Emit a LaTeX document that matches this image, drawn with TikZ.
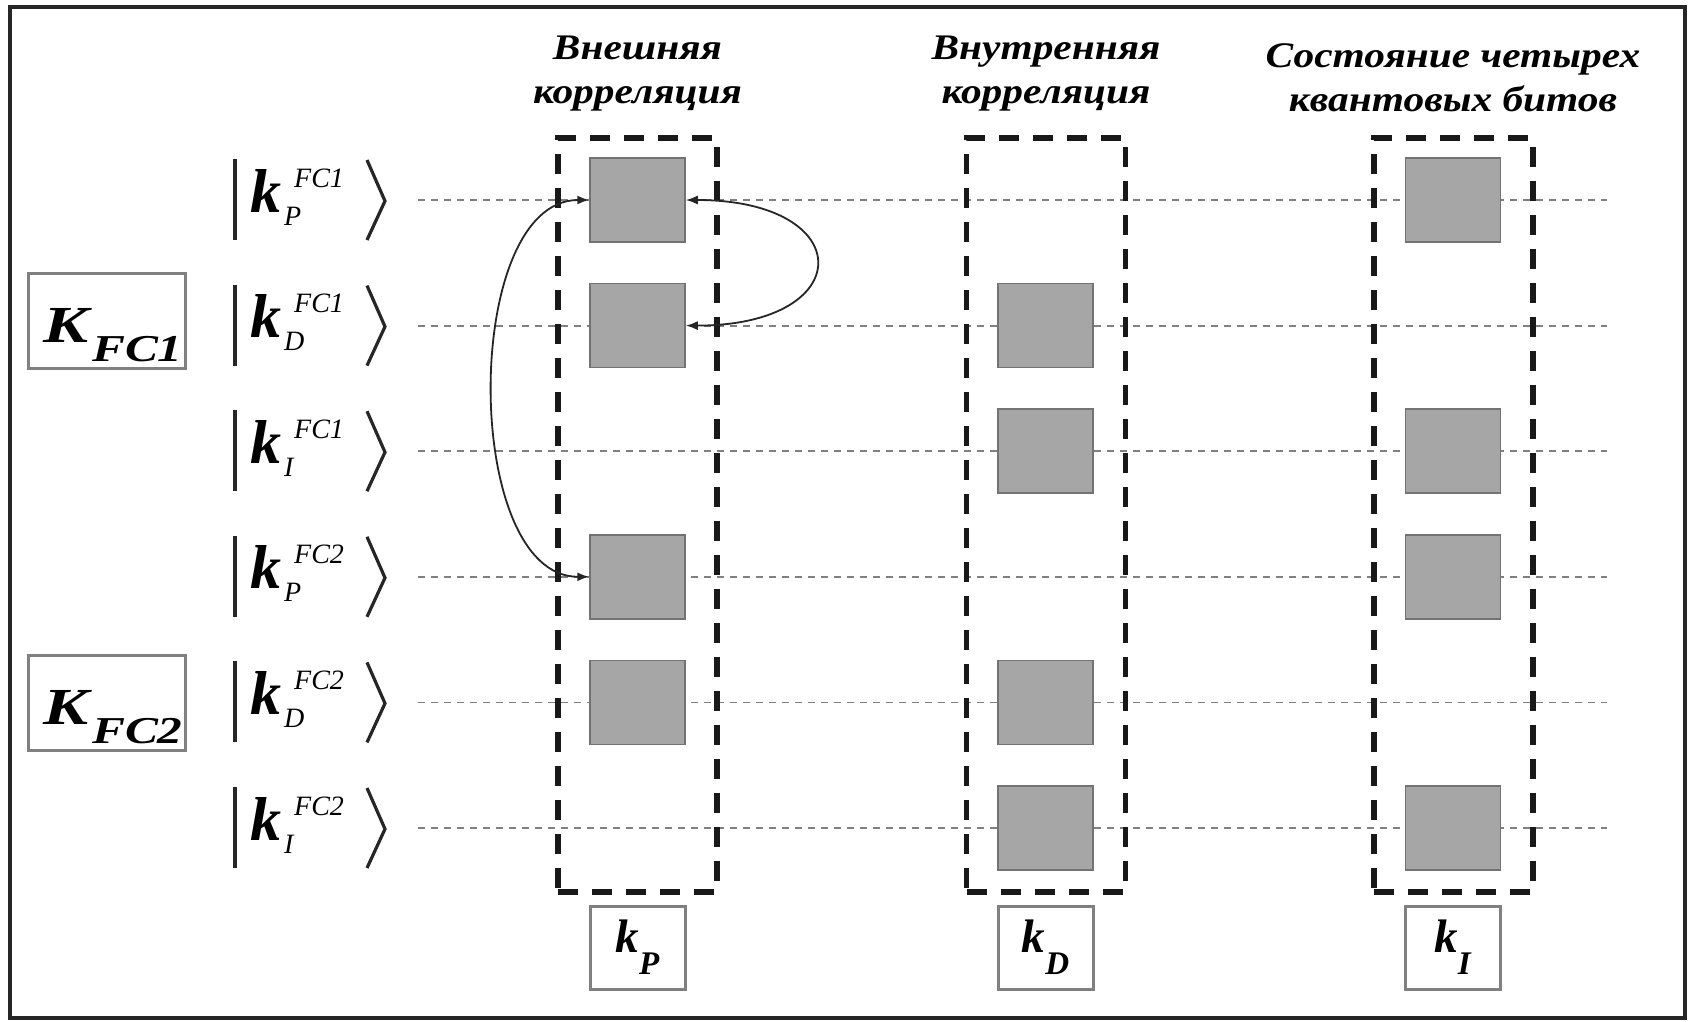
\documentclass[tikz,border=0pt]{standalone}
\usepackage{fontspec}
\setmainfont{Liberation Serif}
\newfontfamily\hdrfont[FakeStretch=1.15]{Liberation Serif}
\newfontfamily\widefont[FakeStretch=1.3]{Liberation Serif}
\usetikzlibrary{arrows.meta}

% ket label body: bold italic k with an italic subscript and superscript
\newcommand\ketbody[2]{\textbf{\textit{k}}\kern3pt\rlap{\kern10pt\raisebox{25pt}{\fontsize{28}{28}\selectfont\textit{#2}}}\raisebox{-13pt}{\fontsize{28}{28}\selectfont\textit{#1}}}
% bold italic symbol with a lowered bold italic index
\newcommand\idxsym[4]{\textbf{\textit{#1}}\raisebox{-#3}{\fontsize{#4}{#4}\selectfont\textbf{\textit{#2}}}}

\begin{document}
\begin{tikzpicture}[x=1pt,y=-1pt,
  frame/.style={line width=4pt, draw=black!85},
  qline/.style={draw=black!50, line width=1.8pt, dash pattern=on 7pt off 6pt},
  corrbox/.style={draw=black!90, line width=5.5pt, dash pattern=on 20pt off 14pt,
    minimum width=159pt, minimum height=754pt, inner sep=0pt},
  qbit/.style={fill=black!35, draw=black!55, line width=1.5pt,
    minimum width=95pt, minimum height=84pt, inner sep=0pt},
  keybox/.style={draw=black!50, line width=3pt, fill=white,
    minimum width=95pt, minimum height=83pt, inner sep=0pt,
    font=\fontsize{47}{47}\selectfont},
  fcbox/.style={draw=black!50, line width=3pt, minimum width=157pt,
    minimum height=95pt, inner sep=0pt},
  fctext/.style={anchor=base west, inner sep=0pt, font=\widefont\fontsize{52}{52}\selectfont},
  hdr/.style={font=\hdrfont\bfseries\itshape\fontsize{36}{44}\selectfont,
    align=center, inner sep=0pt, anchor=north},
  kettext/.style={anchor=base west, inner sep=0pt, font=\fontsize{62}{62}\selectfont},
  ketbar/.style={draw=black!85, line width=4.5pt},
  ketangle/.style={draw=black!85, line width=3.2pt, line join=miter},
  link/.style={draw=black!85, line width=1.8pt,
    {Latex[length=12pt,width=9pt]}-{Latex[length=12pt,width=9pt]}}
]
\useasboundingbox (0,0) rectangle (1689,1021);
\fill[white] (0,0) rectangle (1689,1021);
\draw[frame] (10,7) rectangle (1685,1018);

% qubit lines
\foreach \r/\y in {1/200,2/325.6,3/451.2,4/576.8,5/702.4,6/828}{
  \coordinate (ls\r) at (418,\y);
  \coordinate (le\r) at (1607,\y);
  \draw[qline] (ls\r) -- (le\r);
}

% column headers
\node[hdr] (h1) at (637.5,36) {Внешняя\\корреляция};
\node[hdr] (h2) at (1046,36) {Внутренняя\\корреляция};
\node[hdr] (h3) at (1453,43) {Состояние четырех\\квантовых битов};

% correlation groups
\node[corrbox] (c1) at (637.5,515) {};
\node[corrbox] (c2) at (1046,515) {};
\node[corrbox] (c3) at (1453.5,515) {};

% occupied qubit positions
\foreach \r/\y in {1/200,2/325.6,4/576.8,5/702.4}
  \node[qbit] (q\r1) at (637.5,\y) {};
\foreach \r/\y in {2/325.6,3/451.2,5/702.4,6/828}
  \node[qbit] (q\r2) at (1045.5,\y) {};
\foreach \r/\y in {1/200,3/451.2,4/576.8,6/828}
  \node[qbit] (q\r3) at (1453,\y) {};

% correlations inside the external group
\draw[link] (q11.west) to[out=180,in=180,looseness=0.87] (q41.west);
\draw[link] (q11.east) .. controls +(173,0) and +(173,0) .. (q21.east);

% key labels
\node[keybox] (kp) at (637.5,947.5) {\idxsym{k}{P}{22pt}{33}};
\node[keybox] (kd) at (1045.5,947.5) {\idxsym{k}{D}{22pt}{33}};
\node[keybox] (ki) at (1453,947.5) {\idxsym{k}{I}{22pt}{33}};

% key groups
\node[fcbox] (f1) at (106.5,320.5) {};
\node[fctext] (f1t) at (43,342) {\idxsym{K}{FC1}{19pt}{38}};
\node[fcbox] (f2) at (106.5,702.5) {};
\node[fctext] (f2t) at (43,724) {\idxsym{K}{FC2}{19pt}{38}};

% state kets
\foreach \r/\y/\s/\f in {1/200/P/FC1,2/325.6/D/FC1,3/451.2/I/FC1,
                         4/576.8/P/FC2,5/702.4/D/FC2,6/828/I/FC2}{
  \node[kettext] (k\r) at (250,\y+12) {\ketbody{\s}{\f}};
  \draw[ketbar] (235,\y-41) -- (235,\y+40);
  \draw[ketangle] (367,\y-40) -- (385,\y+1) -- (367,\y+40);
}
\end{tikzpicture}
\end{document}
